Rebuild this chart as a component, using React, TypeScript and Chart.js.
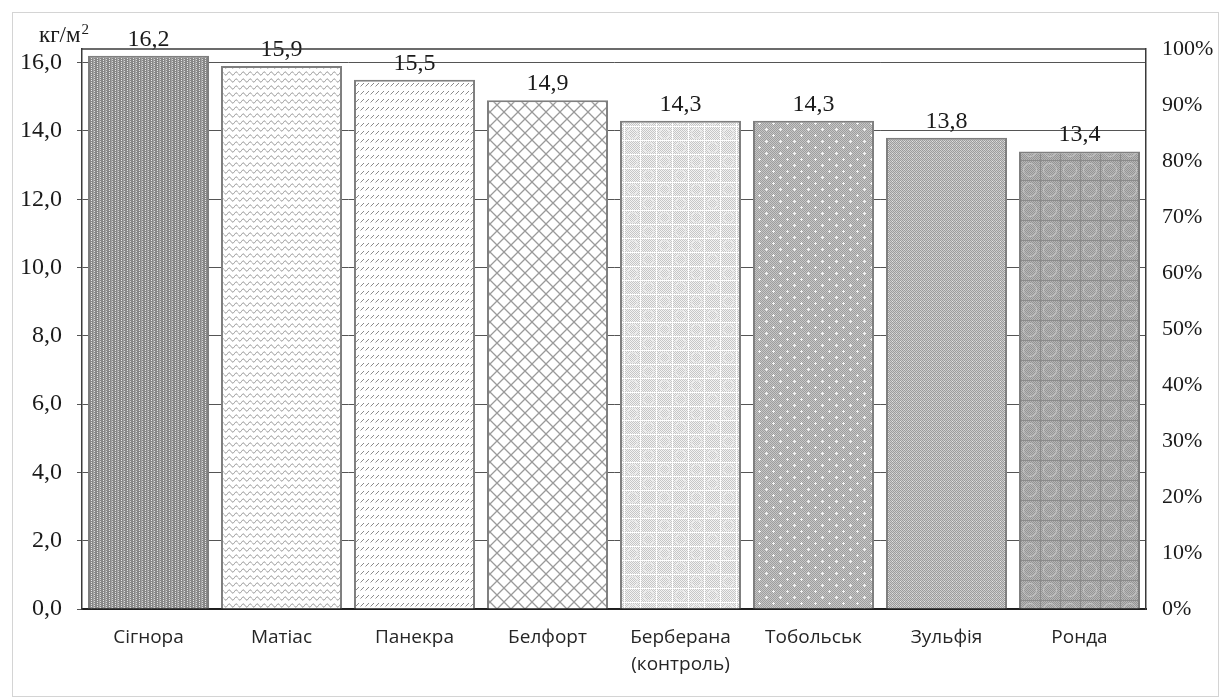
import React, { useEffect, useRef } from "react";
import { Chart, registerables } from "chart.js";

Chart.register(...registerables);

// Yield by variety, kg/m²
const varieties: (string | string[])[] = [
  "Сігнора",
  "Матіас",
  "Панекра",
  "Белфорт",
  ["Берберана", "(контроль)"],
  "Тобольськ",
  "Зульфія",
  "Ронда",
];
const yieldValues = [16.2, 15.9, 15.5, 14.9, 14.3, 14.3, 13.8, 13.4];
const leftTicks = [0, 2, 4, 6, 8, 10, 12, 14, 16];
const rightTicks = [0, 10, 20, 30, 40, 50, 60, 70, 80, 90, 100];
const unitLabel = "кг/м";
const unitPower = "2";

const W = 1219;
const H = 697;
const SERIF = "'Liberation Serif', 'Times New Roman', serif";
const SANS = "'Open Sans', 'Noto Sans', sans-serif";

const fmt = (v: number) => v.toFixed(1).replace(".", ",");

function tile(w: number, h: number, draw: (c: CanvasRenderingContext2D) => void) {
  const cv = document.createElement("canvas");
  cv.width = w;
  cv.height = h;
  const c = cv.getContext("2d")!;
  draw(c);
  return cv;
}

function px(c: CanvasRenderingContext2D, x: number, y: number, col: string, w = 1, h = 1) {
  c.fillStyle = col;
  c.fillRect(x, y, w, h);
}

// Monochrome hatch fills for the bars
function makePatterns(ctx: CanvasRenderingContext2D): CanvasPattern[] {
  const tiles: HTMLCanvasElement[] = [];

  // vertical dotted stripes, dark
  tiles.push(
    tile(6, 4, (c) => {
      px(c, 0, 0, "#888888", 6, 4);
      px(c, 1, 0, "#e6e6e6");
      px(c, 1, 2, "#e6e6e6");
      px(c, 4, 1, "#d8d8d8");
      px(c, 4, 3, "#d8d8d8");
      px(c, 3, 0, "#a4a4a4", 1, 4);
    })
  );

  // small waves
  tiles.push(
    tile(14, 7, (c) => {
      px(c, 0, 0, "#ffffff", 14, 7);
      c.strokeStyle = "#8f8f8f";
      c.lineWidth = 1;
      c.beginPath();
      for (let x = 0; x <= 14; x += 0.5) {
        const y = 3.5 + 1.6 * Math.sin((x / 7) * Math.PI * 2);
        if (x === 0) c.moveTo(x, y);
        else c.lineTo(x, y);
      }
      c.stroke();
    })
  );

  // short slanted dashes
  tiles.push(
    tile(5, 8, (c) => {
      px(c, 0, 0, "#ffffff", 5, 8);
      c.strokeStyle = "#8a8a8a";
      c.lineWidth = 1;
      c.beginPath();
      c.moveTo(0.5, 6.5);
      c.lineTo(4, 3);
      c.stroke();
    })
  );

  // diamond lattice
  tiles.push(
    tile(14, 14, (c) => {
      px(c, 0, 0, "#ffffff", 14, 14);
      c.strokeStyle = "#9a9a9a";
      c.lineWidth = 1.3;
      c.beginPath();
      c.moveTo(0, 0);
      c.lineTo(14, 14);
      c.moveTo(14, 0);
      c.lineTo(0, 14);
      c.stroke();
    })
  );

  // light woven check
  tiles.push(
    tile(32, 28, (c) => {
      for (let y = 0; y < 28; y++)
        for (let x = 0; x < 32; x++)
          px(c, x, y, (x + y) % 2 === 0 ? "#c6c6c6" : "#f2f2f2");
      px(c, 0, 0, "#ffffff", 32, 1);
      px(c, 0, 14, "#ffffff", 32, 1);
      px(c, 0, 0, "#ffffff", 1, 28);
      px(c, 16, 0, "#ffffff", 1, 28);
      c.strokeStyle = "#ececec";
      c.lineWidth = 1;
      c.beginPath();
      c.arc(8.5, 7.5, 5, 0, Math.PI * 2);
      c.moveTo(29.5, 21.5);
      c.arc(24.5, 21.5, 5, 0, Math.PI * 2);
      c.stroke();
    })
  );

  // medium dotted grid with bright sparkles
  tiles.push(
    tile(14, 12, (c) => {
      for (let y = 0; y < 12; y++)
        for (let x = 0; x < 14; x++)
          px(c, x, y, (x + y) % 2 === 0 ? "#9e9e9e" : "#c6c6c6");
      px(c, 3, 2, "#f4f4f4", 1, 3);
      px(c, 2, 3, "#f4f4f4", 3, 1);
      px(c, 10, 8, "#f4f4f4", 1, 3);
      px(c, 9, 9, "#f4f4f4", 3, 1);
    })
  );

  // fine gray check
  tiles.push(
    tile(4, 4, (c) => {
      for (let y = 0; y < 4; y++)
        for (let x = 0; x < 4; x++)
          px(c, x, y, (x + y) % 2 === 0 ? "#9c9c9c" : "#cccccc");
      px(c, 0, 1, "#e2e2e2");
    })
  );

  // darker rings
  tiles.push(
    tile(20, 20, (c) => {
      for (let y = 0; y < 20; y++)
        for (let x = 0; x < 20; x++)
          px(c, x, y, (x + y) % 2 === 0 ? "#959595" : "#b6b6b6");
      c.strokeStyle = "#c6c6c6";
      c.lineWidth = 1;
      c.beginPath();
      c.arc(10, 10, 6.5, 0, Math.PI * 2);
      c.stroke();
      px(c, 0, 0, "#8a8a8a", 20, 1);
      px(c, 0, 0, "#8a8a8a", 1, 20);
    })
  );

  return tiles.map((t) => ctx.createPattern(t, "repeat")!);
}

const framePlugin = {
  id: "frame",
  beforeDraw(chart: any) {
    const { ctx } = chart;
    ctx.save();
    ctx.fillStyle = "#ffffff";
    ctx.fillRect(0, 0, W, H);
    ctx.strokeStyle = "#d4d4d4";
    ctx.lineWidth = 1;
    ctx.strokeRect(12.5, 12.5, W - 13, H - 13);
    ctx.restore();
  },
  afterDraw(chart: any) {
    const { ctx, chartArea: a } = chart;
    ctx.save();
    ctx.strokeStyle = "#3a3a3a";
    ctx.lineWidth = 1.5;
    ctx.beginPath();
    ctx.moveTo(a.left, a.top);
    ctx.lineTo(a.right, a.top);
    ctx.stroke();
    // unit caption
    ctx.fillStyle = "#1a1a1a";
    ctx.textBaseline = "alphabetic";
    ctx.textAlign = "left";
    ctx.font = `23px ${SERIF}`;
    ctx.fillText(unitLabel, 39, 42);
    const w = ctx.measureText(unitLabel).width;
    ctx.font = `15px ${SERIF}`;
    ctx.fillText(unitPower, 39 + w + 1, 34);
    ctx.restore();
  },
};

const valueLabels = {
  id: "valueLabels",
  afterDatasetsDraw(chart: any) {
    const { ctx } = chart;
    const meta = chart.getDatasetMeta(0);
    ctx.save();
    ctx.fillStyle = "#1a1a1a";
    ctx.font = `24px ${SERIF}`;
    ctx.textAlign = "center";
    ctx.textBaseline = "alphabetic";
    meta.data.forEach((bar: any, i: number) => {
      ctx.fillText(fmt(yieldValues[i]), bar.x, bar.y - 10);
    });
    ctx.restore();
  },
};

export default function App() {
  const ref = useRef<HTMLCanvasElement>(null);

  useEffect(() => {
    const canvas = ref.current!;
    const ctx = canvas.getContext("2d")!;
    const patterns = makePatterns(ctx);

    const chart = new Chart(canvas, {
      type: "bar",
      data: {
        labels: varieties as any,
        datasets: [
          {
            data: yieldValues,
            backgroundColor: patterns as any,
            borderColor: "#7f7f7f",
            borderWidth: 2,
            barPercentage: 1,
            categoryPercentage: 0.91,
            yAxisID: "y",
          },
        ],
      },
      options: {
        responsive: false,
        animation: false,
        events: [],
        layout: { padding: { top: 49, left: 0, right: 0, bottom: 0 } },
        plugins: { legend: { display: false }, tooltip: { enabled: false } },
        scales: {
          x: {
            grid: { display: false, drawTicks: false },
            border: { display: true, color: "#1f1f1f", width: 2 },
            ticks: {
              color: "#262626",
              padding: 15,
              maxRotation: 0,
              autoSkip: false,
              font: { family: SANS, size: 19, lineHeight: 1.42 },
            },
            afterFit: (s: any) => {
              s.height = H - 609;
            },
          },
          y: {
            position: "left",
            min: 0,
            max: 16.4,
            afterBuildTicks: (s: any) => {
              s.ticks = leftTicks.map((v) => ({ value: v }));
            },
            grid: { color: "#555555", lineWidth: 1, tickLength: 5, drawTicks: true },
            border: { display: true, color: "#3a3a3a", width: 1.5 },
            ticks: {
              color: "#1a1a1a",
              padding: 15,
              font: { family: SERIF, size: 24 },
              callback: (v: any) => fmt(Number(v)),
            },
            afterFit: (s: any) => {
              s.width = 82;
            },
          },
          y1: {
            position: "right",
            min: 0,
            max: 100,
            afterBuildTicks: (s: any) => {
              s.ticks = rightTicks.map((v) => ({ value: v }));
            },
            grid: { display: false, drawTicks: false },
            border: { display: true, color: "#3a3a3a", width: 1.5 },
            ticks: {
              color: "#1a1a1a",
              padding: 16,
              font: { family: SERIF, size: 22 },
              callback: (v: any) => `${v}%`,
            },
            afterFit: (s: any) => {
              s.width = W - 1146;
            },
          },
        },
      },
      plugins: [framePlugin, valueLabels],
    });

    return () => chart.destroy();
  }, []);

  return (
    <div style={{ position: "absolute", left: 0, top: 0, width: W, height: H, background: "#fff" }}>
      <canvas ref={ref} width={W} height={H} style={{ display: "block", width: W, height: H }} />
    </div>
  );
}
